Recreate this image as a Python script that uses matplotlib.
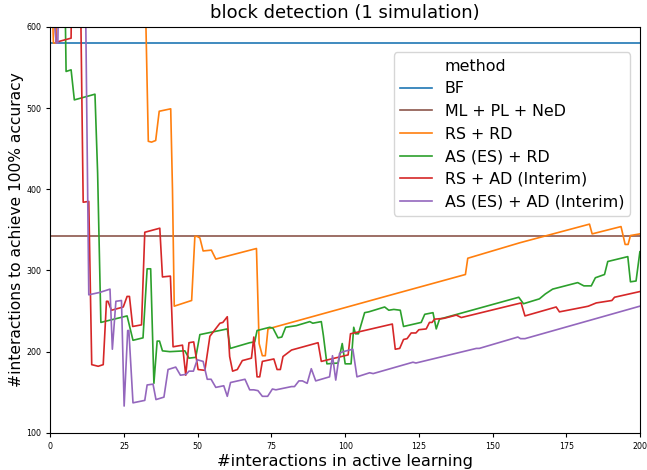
import matplotlib
matplotlib.use("Agg")
import matplotlib.pyplot as plt
from matplotlib.lines import Line2D

# constant baselines
bf_value = 580
mlplned_value = 343

# RS + RD (orange)
rs_rd_x = [0, 1, 1.9, 2.5, 32.0, 32.4, 33.2, 34.3, 35.7, 36.9, 40.8, 41.4, 42.0, 47.9, 49.0, 49.7, 50.7,
           51.8, 54.6, 56.1, 69.9, 70.8, 71.9, 72.9, 73.8, 111.7, 140.8, 141.6, 159.2, 182.9, 183.8,
           193.6, 195.0, 196.0, 196.8, 200]
rs_rd_y = [700, 580, 580, 700, 700, 600, 459, 458, 460, 496, 499, 400, 256, 263, 342, 342, 340,
           324, 325, 314, 327, 210, 195, 195, 228, 266, 295, 315, 334, 357, 345,
           354, 332, 332, 343, 345]

# AS (ES) + RD (green)
as_rd_x = [0, 4.7, 5.3, 7.0, 8.1, 15.1, 16.0, 17.1, 26.0, 28.0, 31.4, 32.8, 34.0, 35.1, 36.2, 37.0,
           38.0, 40.5, 45.6, 47.0, 49.3, 50.7, 60.0, 61.0, 67.6, 69.3, 70.1, 74.4, 75.5, 77.2, 78.5,
           79.8, 83.4, 88.0, 89.0, 91.9, 92.6, 93.8, 97.6, 99.0, 100.0, 102.0, 102.9, 103.5, 104.5,
           106.6, 108.0, 113.4, 114.8, 116.5, 118.7, 119.8, 125.8, 127.0, 129.8, 130.9, 132.0,
           158.9, 160.5, 165.9, 167.9, 170.4, 178.9, 181.0, 183.5, 184.9, 188.0, 189.1, 195.9,
           196.8, 198.7, 200]
as_rd_y = [700, 700, 545, 547, 510, 517, 420, 236, 244, 214, 217, 302, 302, 161, 213, 213,
           201, 200, 201, 192, 193, 221, 228, 204, 211, 212, 226, 230, 229, 217, 218,
           230, 232, 237, 235, 237, 220, 185, 186, 210, 185, 185, 230, 222, 222,
           248, 249, 255, 251, 252, 251, 231, 236, 246, 248, 228, 240,
           267, 259, 265, 271, 277, 285, 281, 281, 291, 295, 311, 317,
           286, 287, 323]

# RS + AD (Interim) (red)
rs_ad_x = [0, 1.9, 7.0, 7.3, 10.0, 11.1, 13.0, 14.0, 16.2, 17.9, 19.0, 19.5, 20.7, 24.7, 26.0, 26.8,
           27.9, 30.9, 32.0, 37.1, 38.0, 40.7, 41.6, 44.8, 45.9, 47.0, 48.6, 50.1, 52.4, 54.1,
           57.5, 58.5, 60.0, 60.8, 61.8, 63.4, 65.1, 68.2, 69.0, 70.1, 71.0, 71.9, 75.8, 76.9,
           78.0, 78.9, 81.8, 90.8, 91.9, 101.0, 101.8, 116.0, 117.0, 118.5, 119.8, 121.0, 122.4,
           124.0, 125.0, 127.5, 128.6, 129.5, 130.3, 133.5, 137.7, 139.4, 159.7, 161.0, 171.6,
           172.7, 181.2, 182.5, 185.2, 190.5, 191.4, 200]
rs_ad_y = [700, 581, 586, 700, 700, 384, 385, 184, 182, 184, 262, 262, 251, 255, 268, 268,
           231, 233, 347, 352, 292, 293, 206, 208, 171, 211, 212, 178, 177, 219,
           235, 236, 243, 194, 176, 178, 189, 192, 218, 169, 169, 188, 191, 178,
           178, 194, 202, 211, 188, 196, 222, 234, 203, 204, 215, 216, 223,
           223, 227, 228, 236, 236, 240, 241, 245, 242, 260, 244, 255,
           249, 255, 256, 260, 263, 267, 274]

# AS (ES) + AD (Interim) (purple)
as_ad_x = [0, 1.9, 2.5, 3.0, 11.7, 13.0, 16.8, 20.2, 21.0, 22.2, 24.1, 25.0, 26.2, 26.6, 28.0, 32.0,
           32.8, 34.8, 35.8, 38.5, 39.9, 42.5, 44.1, 46.0, 47.0, 48.5, 49.8, 51.8, 53.2, 54.5,
           56.1, 58.8, 60.0, 61.1, 66.0, 67.6, 69.0, 70.4, 71.9, 73.7, 75.3, 76.5, 81.8, 82.8,
           84.3, 85.5, 87.1, 88.5, 90.0, 94.7, 95.7, 96.8, 98.1, 99.3, 102.6, 104.0, 108.3,
           109.5, 123.0, 124.0, 144.5, 145.5, 158.6, 159.5, 161.0, 200]
as_ad_y = [700, 580, 580, 700, 700, 270, 273, 277, 203, 262, 263, 133, 226, 226, 137, 140,
           159, 160, 141, 144, 178, 181, 171, 172, 176, 176, 190, 188, 166, 166,
           156, 158, 145, 162, 166, 153, 153, 152, 145, 145, 154, 153, 157, 157,
           164, 164, 161, 179, 164, 169, 195, 165, 198, 200, 203, 169, 174,
           173, 187, 186, 204, 204, 218, 216, 216, 256]

x_range = [0, 200]

fig = plt.figure(figsize=(6.47, 4.7), dpi=100)
ax = fig.add_axes([0.078, 0.079, 0.911, 0.864])

ax.plot(x_range, [bf_value, bf_value], color="#1f77b4", lw=1.2, label="BF")
ax.plot(x_range, [mlplned_value, mlplned_value], color="#8c564b", lw=1.2, label="ML + PL + NeD")
ax.plot(rs_rd_x, rs_rd_y, color="#ff7f0e", lw=1.2, label="RS + RD")
ax.plot(as_rd_x, as_rd_y, color="#2ca02c", lw=1.2, label="AS (ES) + RD")
ax.plot(rs_ad_x, rs_ad_y, color="#d62728", lw=1.2, label="RS + AD (Interim)")
ax.plot(as_ad_x, as_ad_y, color="#9467bd", lw=1.2, label="AS (ES) + AD (Interim)")

ax.set_xlim(0, 200)
ax.set_ylim(100, 600)
ax.set_xticks([0, 25, 50, 75, 100, 125, 150, 175, 200])
ax.set_yticks([100, 200, 300, 400, 500, 600])
ax.tick_params(labelsize=5.7, length=3)

ax.set_title("block detection (1 simulation)", fontsize=13)
ax.set_xlabel("#interactions in active learning", fontsize=11.7, labelpad=2)
ax.set_ylabel("#interactions to achieve 100% accuracy", fontsize=11.2, labelpad=2)

handles, labels = ax.get_legend_handles_labels()
title_handle = Line2D([], [], color="none")
ax.legend([title_handle] + handles, ["method"] + labels, loc="upper right",
          bbox_to_anchor=(0.984, 0.937), borderaxespad=0, fontsize=11.4,
          labelspacing=0.48)

fig.savefig("out.png", dpi=100)
